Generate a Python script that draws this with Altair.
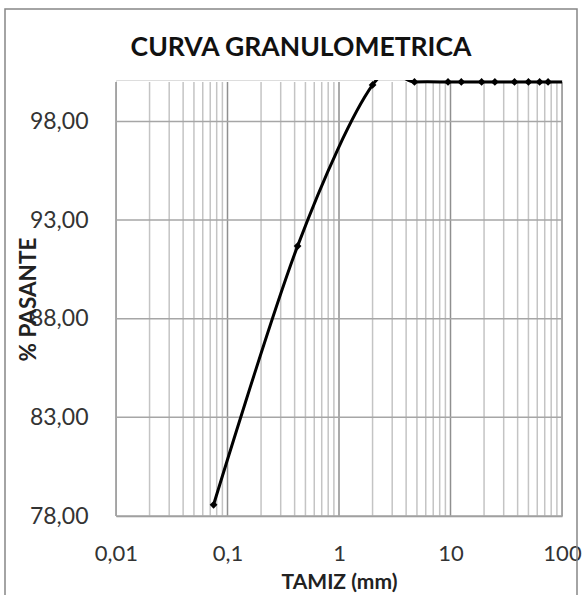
import altair as alt
import pandas as pd

# Sieve sizes (mm) and percent passing
tamiz = [0.075, 0.425, 2.0, 4.75, 9.5, 12.5, 19.0, 25.0, 37.5, 50.0, 63.0, 75.0, 100.0]
pasante = [78.57, 91.68, 99.85, 100.0, 100.0, 100.0, 100.0, 100.0, 100.0, 100.0, 100.0, 100.0, 100.0]
con_marcador = [True, True, True, True, True, True, True, True, True, True, True, True, False]

x_major = [0.01, 0.1, 1, 10, 100]
x_minor = [m * d for d in [0.01, 0.1, 1, 10] for m in range(2, 10)]
y_ticks = [78, 83, 88, 93, 98]

titulo = "CURVA GRANULOMETRICA"

df = pd.DataFrame({"tamiz": tamiz, "pasante": pasante, "marca": con_marcador})

FONT = "Lato"
W, H = 446, 436
xs = alt.Scale(type="log", domain=[0.01, 100], nice=False)
ys = alt.Scale(domain=[78, 100.1], nice=False, zero=False)

x_axis = alt.Axis(
    values=x_major, grid=False, ticks=False, domain=True,
    domainColor="#8f8f8f", domainWidth=1.5,
    labelExpr="replace(format(datum.value, '~g'), '.', ',')",
    labelFont=FONT, labelFontSize=22, labelColor="#333333",
    labelPadding=37, labelBaseline="middle", labelFlush=False,
    title="TAMIZ (mm)", titleFont=FONT, titleFontSize=21,
    titleFontWeight="bold", titleColor="#222222",
    titleY=66, titleBaseline="middle",
)
y_axis = alt.Axis(
    values=y_ticks, grid=False, ticks=False, domain=False,
    labelExpr="replace(format(datum.value, '.2f'), '.', ',')",
    labelFont=FONT, labelFontSize=23, labelColor="#333333",
    labelPadding=28,
    title="% PASANTE", titleFont=FONT, titleFontSize=22.5,
    titleFontWeight="bold", titleColor="#222222",
    titleX=-88, titleY=H / 2 + 1, titleAngle=-90,
    titleAlign="center", titleBaseline="middle",
)

minor_grid = alt.Chart(pd.DataFrame({"tamiz": x_minor})).mark_rule(
    color="#c4c4c4", strokeWidth=1.5
).encode(x=alt.X("tamiz:Q", scale=xs, axis=x_axis), y=alt.value(2), y2=alt.value(H))

major_grid = alt.Chart(pd.DataFrame({"tamiz": x_major})).mark_rule(
    color="#8f8f8f", strokeWidth=1.5
).encode(x=alt.X("tamiz:Q", scale=xs, axis=x_axis), y=alt.value(2), y2=alt.value(H))

h_grid = alt.Chart(pd.DataFrame({"pasante": y_ticks})).mark_rule(
    color="#a6a6a6", strokeWidth=1.5
).encode(y=alt.Y("pasante:Q", scale=ys, axis=y_axis), x=alt.value(0), x2=alt.value(W))

base = alt.Chart(df)

line = base.mark_line(
    color="black", strokeWidth=3, interpolate="cardinal", tension=0, clip=True
).encode(
    x=alt.X("tamiz:Q", scale=xs, axis=x_axis),
    y=alt.Y("pasante:Q", scale=ys, axis=y_axis),
)

points = base.transform_filter("datum.marca").mark_point(
    shape="diamond", filled=True, color="black", size=60, opacity=1, clip=False
).encode(x=alt.X("tamiz:Q", scale=xs, axis=x_axis), y=alt.Y("pasante:Q", scale=ys, axis=y_axis))

frame = alt.Chart(pd.DataFrame({"a": [0]})).mark_rect(
    fill=None, stroke="#868686", strokeWidth=1.5, clip=False
).encode(
    x=alt.value(5 - 116), x2=alt.value(577 - 116),
    y=alt.value(9 - 80), y2=alt.value(640 - 80),
)

title = alt.Chart(pd.DataFrame({"t": [titulo]})).mark_text(
    font=FONT, fontSize=26.5, fontWeight="bold", color="#111111",
    align="center", baseline="middle", clip=False
).encode(text="t:N", x=alt.value(301 - 116), y=alt.value(48 - 80))

chart = alt.layer(frame, minor_grid, major_grid, h_grid, line, points, title).properties(
    width=W, height=H,
    autosize=alt.AutoSizeParams(type="none"),
    padding={"left": 116, "top": 80, "right": 23, "bottom": 79},
).configure_view(stroke=None).configure(background="white")

chart.save("out.html", embed_options={"renderer": "svg", "actions": False})
